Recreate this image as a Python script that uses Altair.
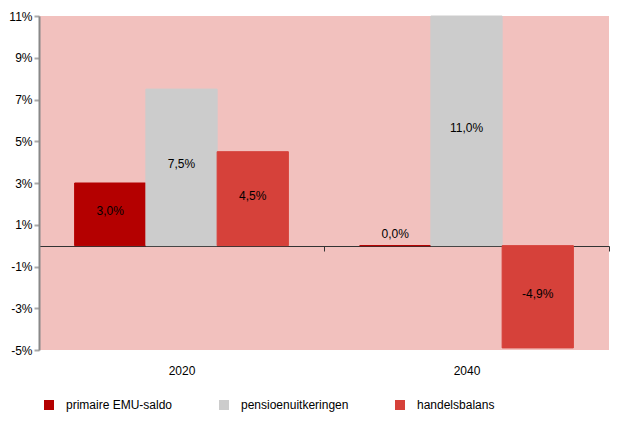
import altair as alt
import pandas as pd

years = ["2020", "2040"]
series = ["primaire EMU-saldo", "pensioenuitkeringen", "handelsbalans"]
values_2020 = [3.0, 7.5, 4.5]
values_2040 = [0.0, 11.0, -4.9]
colors = ["#b40000", "#cccccc", "#d6413a"]
y_ticks = [-5, -3, -1, 1, 3, 5, 7, 9, 11]
y_domain = [-5, 11]

rows = []
for yr, vals in zip(years, [values_2020, values_2040]):
    for s, v in zip(series, vals):
        rows.append({"jaar": yr, "reeks": s, "waarde": v})
df = pd.DataFrame(rows)

FONT = "Liberation Sans"
W, H = 570, 334
zero_offset = -round(H * (0 - y_domain[0]) / (y_domain[1] - y_domain[0]))

x = alt.X(
    "jaar:N", sort=years, title=None,
    scale=alt.Scale(paddingInner=0, paddingOuter=0),
    axis=alt.Axis(offset=zero_offset, tickBand="extent", domainColor="#333333",
                  tickColor="#333333", tickSize=5, labelPadding=114, labelAngle=0,
                  labelFontSize=12, labelColor="black", labelFont=FONT, grid=False),
)
xoff = alt.XOffset("reeks:N", sort=series, scale=alt.Scale(paddingInner=0, paddingOuter=0.5))
yscale = alt.Scale(domain=y_domain, nice=False, zero=False)
y = alt.Y(
    "waarde:Q", title=None, scale=yscale,
    axis=alt.Axis(values=y_ticks, labelExpr="datum.value + '%'", grid=False,
                  domainColor="#888888", domainWidth=2, tickColor="#aaaaaa", tickWidth=2,
                  tickSize=5, labelPadding=2, labelFontSize=12, labelColor="black",
                  labelFont=FONT),
)
color_scale = alt.Scale(domain=series, range=colors)

bars = alt.Chart(df).mark_bar(strokeWidth=1).encode(
    x=x, xOffset=xoff, y=y,
    color=alt.Color("reeks:N", sort=series, scale=color_scale, title=None,
                    legend=alt.Legend(orient="none", legendX=4, legendY=383,
                                      direction="horizontal", columns=3, columnPadding=45,
                                      symbolType="square", symbolSize=100,
                                      symbolStrokeWidth=0, labelOffset=11,
                                      labelFontSize=12, labelFont=FONT,
                                      labelColor="black")),
    stroke=alt.Stroke("reeks:N", sort=series, scale=color_scale, legend=None),
)

texts = alt.Chart(df).transform_calculate(
    ty="datum.waarde == 0 ? 0.4 : datum.waarde / 2",
    lab="(datum.waarde < 0 ? '-' : '') + replace(format(abs(datum.waarde), '.1f'), '.', ',') + '%'",
).mark_text(baseline="middle", dy=-3, fontSize=12, font=FONT, color="black").encode(
    x=alt.X("jaar:N", sort=years),
    xOffset=alt.XOffset("reeks:N", sort=series),
    y=alt.Y("ty:Q", scale=yscale),
    text="lab:N",
)

chart = alt.layer(bars, texts).properties(
    width=W, height=H,
    autosize=alt.AutoSizeParams(type="none"),
    padding={"left": 31, "top": 8, "right": 1, "bottom": 65},
).configure_view(fill="#f2c1be", stroke=None)

chart.save("out.html", embed_options={"renderer": "svg", "actions": False})
